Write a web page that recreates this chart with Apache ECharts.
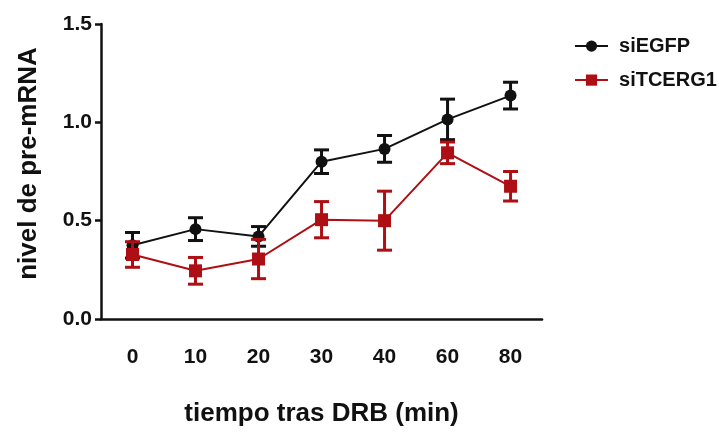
<!DOCTYPE html>
<html>
<head>
<meta charset="utf-8">
<script src="https://cdn.jsdelivr.net/npm/echarts@6/dist/echarts.min.js"></script>
<style>html,body{margin:0;padding:0;background:#fff;width:100%;height:100%;overflow:hidden}#c{width:100vw;height:100vh}</style>
</head>
<body>
<div id="c"></div>
<script>
var categories = ['0','10','20','30','40','60','80'];
var seriesNames = ['siEGFP','siTCERG1'];
var egfpMean = [0.375, 0.457, 0.42, 0.80, 0.865, 1.015, 1.136];
var egfpErr  = [0.065, 0.058, 0.05, 0.06, 0.068, 0.103, 0.068];
var tcergMean = [0.328, 0.245, 0.305, 0.505, 0.50, 0.845, 0.675];
var tcergErr  = [0.065, 0.068, 0.10, 0.092, 0.15, 0.055, 0.075];
var yTicks = [0, 0.5, 1.0, 1.5];

var FONT = 'Liberation Sans, Arial, sans-serif';
var BLACK = '#111111';
var RED = '#ad0f14';

function errData(mean, err) {
  return mean.map(function (m, i) { return [i, m - err[i], m + err[i]]; });
}
function errSeries(mean, err, color, z) {
  return {
    type: 'custom',
    name: 'err',
    z: z,
    silent: true,
    data: errData(mean, err),
    encode: { x: 0, y: [1, 2] },
    renderItem: function (params, api) {
      var lo = api.coord([api.value(0), api.value(1)]);
      var hi = api.coord([api.value(0), api.value(2)]);
      var w = 7.5;
      var st = { stroke: color, lineWidth: 3, fill: null };
      return {
        type: 'group',
        children: [
          { type: 'line', shape: { x1: lo[0], y1: lo[1], x2: hi[0], y2: hi[1] }, style: st },
          { type: 'line', shape: { x1: lo[0] - w, y1: lo[1], x2: lo[0] + w, y2: lo[1] }, style: st },
          { type: 'line', shape: { x1: hi[0] - w, y1: hi[1], x2: hi[0] + w, y2: hi[1] }, style: st }
        ]
      };
    }
  };
}

var chart = echarts.init(document.getElementById('c'), null, { renderer: 'canvas' });
chart.setOption({
  animation: false,
  backgroundColor: '#fff',
  grid: { left: '14.05%', top: '5.56%', width: '61.34%', height: '69.21%', containLabel: false },
  legend: {
    orient: 'vertical',
    left: '79.14%',
    top: '7.2%',
    itemWidth: 33,
    itemHeight: 14,
    itemGap: 14,
    data: seriesNames,
    textStyle: { fontFamily: FONT, fontWeight: 'bold', fontSize: 20, color: BLACK, padding: [0, 0, 0, 6] }
  },
  xAxis: {
    type: 'category',
    data: categories,
    boundaryGap: true,
    name: 'tiempo tras DRB (min)',
    nameLocation: 'middle',
    nameGap: 82,
    nameTextStyle: { fontFamily: FONT, fontWeight: 'bold', fontSize: 26, color: BLACK },
    axisLine: { lineStyle: { color: BLACK, width: 2.5 } },
    axisTick: { alignWithLabel: true, length: 8, lineStyle: { color: BLACK, width: 2.5 } },
    axisLabel: { fontFamily: FONT, fontWeight: 'bold', fontSize: 21, color: BLACK, margin: 28 },
    splitLine: { show: false }
  },
  yAxis: {
    type: 'value',
    min: yTicks[0],
    max: yTicks[yTicks.length - 1],
    interval: 0.5,
    name: 'nivel de pre-mRNA',
    nameLocation: 'middle',
    nameGap: 59,
    nameRotate: 90,
    nameTextStyle: { fontFamily: FONT, fontWeight: 'bold', fontSize: 26, color: BLACK, padding: [0, 0, 0, 16] },
    axisLine: { show: true, lineStyle: { color: BLACK, width: 2.5 } },
    axisTick: { show: true, length: 6, lineStyle: { color: BLACK, width: 2.5 } },
    axisLabel: {
      fontFamily: FONT, fontWeight: 'bold', fontSize: 21, color: BLACK, margin: 9,
      formatter: function (v) { return v.toFixed(1); }
    },
    splitLine: { show: false }
  },
  series: [
    errSeries(egfpMean, egfpErr, BLACK, 2),
    {
      name: seriesNames[0],
      type: 'line',
      z: 3,
      data: egfpMean,
      symbol: 'circle',
      symbolSize: 12,
      lineStyle: { color: BLACK, width: 2 },
      itemStyle: { color: BLACK }
    },
    errSeries(tcergMean, tcergErr, RED, 4),
    {
      name: seriesNames[1],
      type: 'line',
      z: 5,
      data: tcergMean,
      symbol: 'rect',
      symbolSize: 13,
      lineStyle: { color: RED, width: 2 },
      itemStyle: { color: RED }
    }
  ]
});
window.addEventListener('resize', function () { chart.resize(); });
</script>
</body>
</html>
